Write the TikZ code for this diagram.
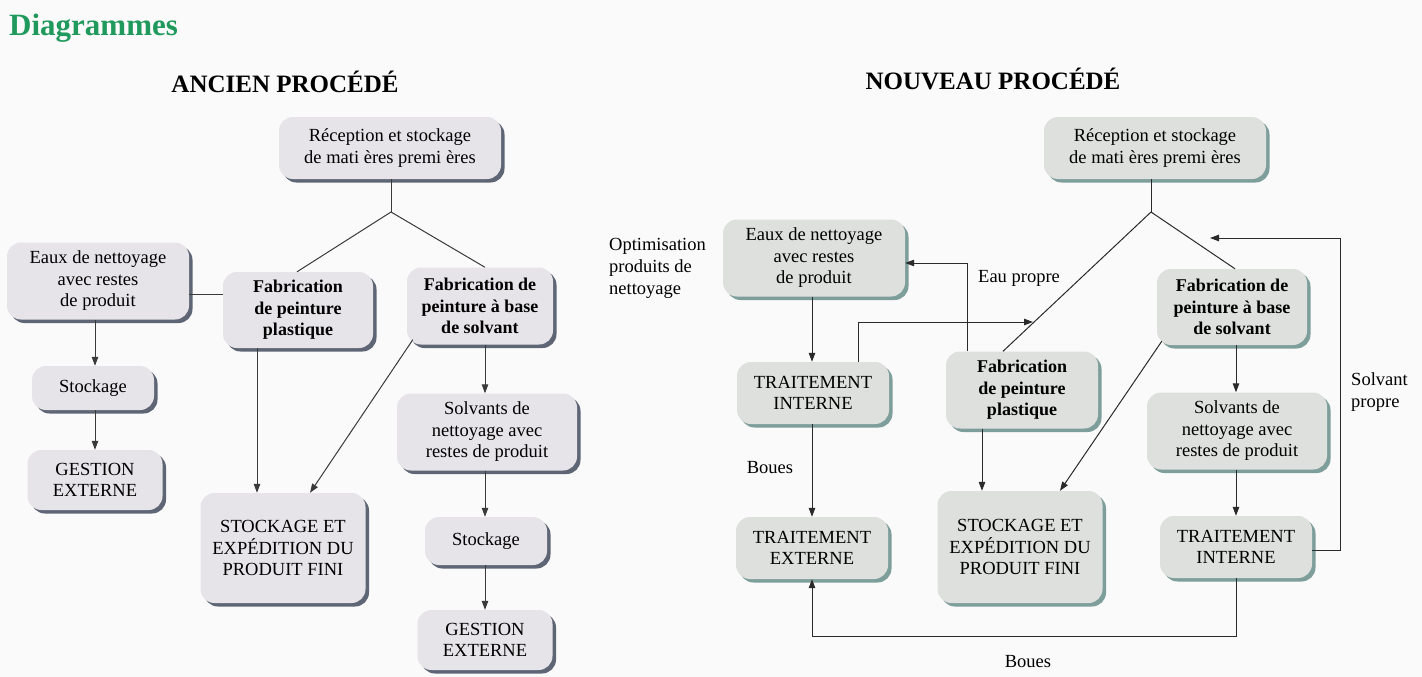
\documentclass[tikz,border=0pt]{standalone}
\usepackage{fontspec}
\setmainfont{Liberation Serif}
\usetikzlibrary{arrows.meta,shadows}
\definecolor{bg}{HTML}{FAFAFA}
\definecolor{fillL}{HTML}{E6E4E8}
\definecolor{shL}{HTML}{5E6675}
\definecolor{fillR}{HTML}{DDE0DC}
\definecolor{shR}{HTML}{7E9E9B}
\definecolor{ttl}{HTML}{1F9A5C}
\definecolor{lnL}{HTML}{3A3A3A}
\definecolor{lnR}{HTML}{2A2A2A}
\begin{document}
\begin{tikzpicture}[x=1pt,y=-1pt,
  boxbase/.style={rounded corners=14pt, draw=none, align=center, inner sep=0pt,
    font=\fontsize{18.5}{21.5}\selectfont},
  boxL/.style={boxbase, fill=fillL, drop shadow={shadow xshift=3.5pt,shadow yshift=-3.5pt,opacity=1,fill=shL}},
  boxR/.style={boxbase, fill=fillR, drop shadow={shadow xshift=3.5pt,shadow yshift=-3.5pt,opacity=1,fill=shR}},
  bf/.style={font=\fontsize{18}{21.5}\selectfont\bfseries},
  lineL/.style={draw=lnL, line width=1pt},
  lineR/.style={draw=lnR, line width=1pt},
  arrL/.style={lineL, -{Triangle[length=9pt,width=6.5pt]}},
  arrR/.style={lineR, -{Triangle[length=9pt,width=6.5pt]}},
  lbl/.style={font=\fontsize{18.5}{22}\selectfont, inner sep=0pt, align=left}
]
\useasboundingbox (0,0) rectangle (1422,677);
\fill[bg] (0,0) rectangle (1422,677);

% titles
\node[anchor=west, inner sep=0pt, text=ttl, font=\fontsize{31}{34}\selectfont\bfseries] (title) at (9,28) {Diagrammes};
\node[inner sep=0pt, font=\fontsize{25}{28}\selectfont\bfseries] (tA) at (285,82) {ANCIEN PROCÉDÉ};
\node[inner sep=0pt, font=\fontsize{25}{28}\selectfont\bfseries] (tB) at (993,79) {NOUVEAU PROCÉDÉ};

% ---------------- ANCIEN ----------------
\node[boxL, minimum width=222pt, minimum height=62pt] (Arec) at (390,148) {Réception et stockage\\de mati ères premi ères};
\coordinate (Aj) at (391,212);
\node[boxL, minimum width=182pt, minimum height=77pt] (Aeaux) at (98,281) {Eaux de nettoyage\\avec restes\\de produit};
\node[boxL, bf, minimum width=150pt, minimum height=76pt] (Aplast) at (298,310) {Fabrication\\de peinture\\plastique};
\node[boxL, bf, minimum width=146pt, minimum height=77pt] (Asolv) at (480,306) {Fabrication de\\peinture  à base\\de solvant};
\node[boxL, minimum width=122pt, minimum height=44pt] (Astock1) at (93,388) {Stockage};
\node[boxL, minimum width=135pt, minimum height=60pt] (Agest1) at (95,480) {GESTION\\EXTERNE};
\node[boxL, minimum width=165pt, minimum height=110pt] (Afinal) at (283,548) {STOCKAGE ET\\EXPÉDITION DU\\PRODUIT FINI};
\node[boxL, minimum width=180pt, minimum height=77pt] (Asolvn) at (487,432) {Solvants de\\nettoyage avec\\restes de produit};
\node[boxL, minimum width=122pt, minimum height=48pt] (Astock2) at (486,541) {Stockage};
\node[boxL, minimum width=135pt, minimum height=60pt] (Agest2) at (485,640) {GESTION\\EXTERNE};

\draw[lineL] (Arec.south -| Aj) -- (Aj);
\draw[lineL] (Aj) -- (Aplast.north -| 297,0);
\draw[lineL] (Aj) -- (Asolv.north -| 485,0);
\draw[lineL] (Aeaux.east |- 0,294) -- (Aplast.west |- 0,294);
\draw[arrL] (Aeaux.south -| 95,0) -- (Astock1.north -| 95,0);
\draw[arrL] (Astock1.south -| 95,0) -- (Agest1.north -| 95,0);
\draw[arrL] (Aplast.south -| 257,0) -- (Afinal.north -| 257,0);
\draw[arrL] ([shift={(6,-5)}]Asolv.south west) -- (Afinal.north -| 310,0);
\draw[arrL] (Asolv.south -| 485,0) -- (Asolvn.north -| 485,0);
\draw[arrL] (Asolvn.south -| 485,0) -- (Astock2.north -| 485,0);
\draw[arrL] (Astock2.south -| 485,0) -- (Agest2.north -| 485,0);

% ---------------- NOUVEAU ----------------
\node[boxR, minimum width=222pt, minimum height=62pt] (Brec) at (1155,148) {Réception et stockage\\de mati ères premi ères};
\coordinate (Bj) at (1151,212);
\node[boxR, minimum width=182pt, minimum height=77pt] (Beaux) at (814,258) {Eaux de nettoyage\\avec restes\\de produit};
\node[boxR, minimum width=152pt, minimum height=62pt] (Bti1) at (813,393) {TRAITEMENT\\INTERNE};
\node[boxR, bf, minimum width=152pt, minimum height=77pt] (Bplast) at (1022,390) {Fabrication\\de peinture\\plastique};
\node[boxR, bf, minimum width=150pt, minimum height=76pt] (Bsolv) at (1232,307) {Fabrication de\\peinture  à base\\de solvant};
\node[boxR, minimum width=165pt, minimum height=112pt] (Bfinal) at (1020,547) {STOCKAGE ET\\EXPÉDITION DU\\PRODUIT FINI};
\node[boxR, minimum width=180pt, minimum height=77pt] (Bsolvn) at (1237,431) {Solvants de\\nettoyage avec\\restes de produit};
\node[boxR, minimum width=152pt, minimum height=62pt] (Bti2) at (1236,547) {TRAITEMENT\\INTERNE};
\node[boxR, minimum width=152pt, minimum height=62pt] (Bte) at (812,548) {TRAITEMENT\\EXTERNE};

\node[lbl, anchor=west] (opt) at (609,268) {Optimisation\\produits de\\nettoyage};
\node[lbl, anchor=west] (eaup) at (978,278) {Eau propre};
\node[lbl, anchor=west] (solvp) at (1351,392) {Solvant\\propre};
\node[lbl] (boues1) at (770,468) {Boues};
\node[lbl] (boues2) at (1028,662) {Boues};

\coordinate (eauTip) at (1033,322);
\coordinate (solvTip) at (1210,238);

\draw[lineR] (Brec.south -| Bj) -- (Bj);
\draw[lineR] (Bj) -- (Bplast.north -| 1003,0);
\draw[lineR] (Bj) -- (Bsolv.north -| 1235,0);
\draw[arrR] (Beaux.south -| 812,0) -- (Bti1.north -| 812,0);
\draw[arrR] (Bti1.north -| 858,0) |- (eauTip);
\draw[arrR] (Bplast.north -| 967,0) |- (Beaux.east |- 0,263);
\draw[arrR] (Bplast.south -| 982,0) -- (Bfinal.north -| 982,0);
\draw[arrR] ([shift={(5,-4)}]Bsolv.south west) -- (Bfinal.north -| 1060,0);
\draw[arrR] (Bsolv.south -| 1236,0) -- (Bsolvn.north -| 1236,0);
\draw[arrR] (Bsolvn.south -| 1236,0) -- (Bti2.north -| 1236,0);
\draw[arrR] (Bti2.east |- 0,550) -| (1340,238) -- (solvTip);
\draw[arrR] (Bti1.south -| 812,0) -- (Bte.north -| 812,0);
\draw[arrR] (Bti2.south -| 1236,0) |- (812,636) -- (Bte.south -| 812,0);
\end{tikzpicture}
\end{document}
